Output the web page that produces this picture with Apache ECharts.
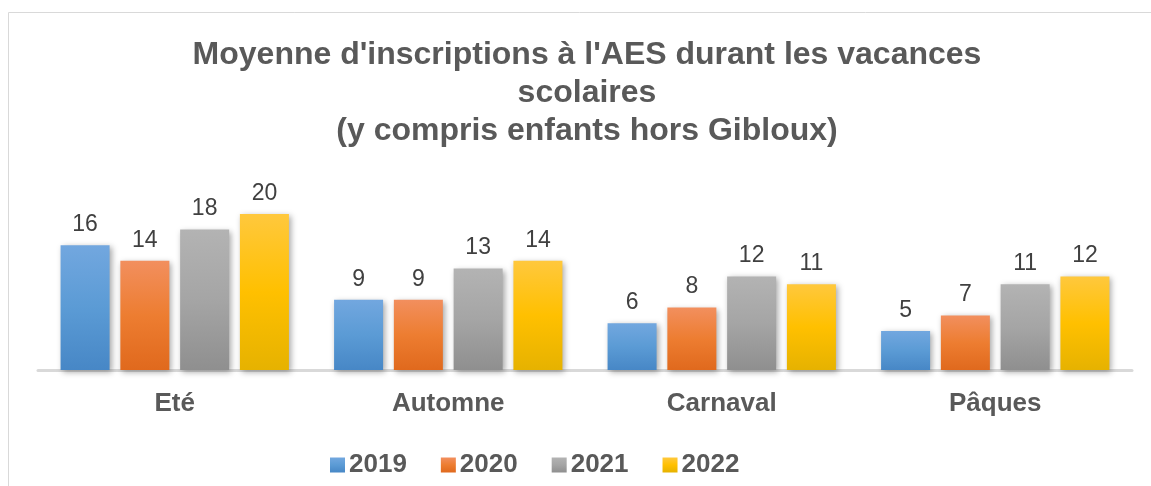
<!DOCTYPE html>
<html>
<head>
<meta charset="utf-8">
<script src="https://cdn.jsdelivr.net/npm/echarts@6/dist/echarts.min.js"></script>
<style>
  html, body { margin: 0; padding: 0; background: #fff; }
  #main { width: 1151px; height: 486px; }
</style>
</head>
<body>
<div id="main"></div>
<script>
// données
let periodes = ['Eté', 'Automne', 'Carnaval', 'Pâques'];
let annees = ['2019', '2020', '2021', '2022'];
let val2019 = [16, 9, 6, 5];
let val2020 = [14, 9, 8, 7];
let val2021 = [18, 13, 12, 11];
let val2022 = [20, 14, 11, 12];

let chart = echarts.init(document.getElementById('main'), null, { renderer: 'canvas' });

// dégradés façon Excel
function degrade(haut, milieu, bas) {
	return new echarts.graphic.LinearGradient(0, 0, 0, 1, [
		{ offset: 0, color: haut },
		{ offset: 0.5, color: milieu },
		{ offset: 1, color: bas }
	]);
}
let couleurs = [
	degrade('#72a7df', '#5b9bd5', '#4787c6'),
	degrade('#f28f5e', '#ed7d31', '#e0691d'),
	degrade('#b3b3b3', '#a5a5a5', '#8f8f8f'),
	degrade('#ffc83d', '#ffc000', '#e6b200')
];
let valeurs = [val2019, val2020, val2021, val2022];

let series = [];
annees.forEach(function(a, i) {
	series.push({
		name: a,
		type: 'bar',
		data: valeurs[i],
		barWidth: 49,
		barGap: '22%',
		itemStyle: {
			color: couleurs[i],
			shadowBlur: 6,
			shadowOffsetX: 2,
			shadowOffsetY: 2,
			shadowColor: 'rgba(0,0,0,0.35)'
		},
		label: {
			show: true,
			position: 'top',
			distance: 9,
			fontFamily: 'Liberation Sans',
			fontSize: 23,
			color: '#404040'
		}
	});
});

let option = {
	animation: false,
	textStyle: { fontFamily: 'Liberation Sans' },
	title: {
		text: "Moyenne d'inscriptions à l'AES durant les vacances\nscolaires\n(y compris enfants hors Gibloux)",
		left: 582,
		textAlign: 'center',
		top: 31,
		textStyle: {
			fontFamily: 'Liberation Sans',
			fontSize: 32,
			fontWeight: 'bold',
			color: '#595959',
			lineHeight: 38
		}
	},
	legend: {
		data: annees,
		left: 325,
		top: 447,
		itemWidth: 15,
		itemHeight: 15,
		itemGap: 34,
		icon: 'rect',
		textStyle: {
			fontFamily: 'Liberation Sans',
			fontSize: 26,
			fontWeight: 'bold',
			color: '#595959',
			padding: [0, 0, 0, -1]
		}
	},
	grid: {
		left: 38,
		right: 19,
		top: 175,
		bottom: 116
	},
	xAxis: {
		type: 'category',
		data: periodes,
		axisTick: { show: false },
		axisLine: { lineStyle: { color: '#d9d9d9', width: 3 } },
		axisLabel: {
			margin: 21,
			fontFamily: 'Liberation Sans',
			fontSize: 26,
			fontWeight: 'bold',
			color: '#595959'
		}
	},
	yAxis: {
		type: 'value',
		min: 0,
		max: 25,
		show: false,
		splitLine: { show: false }
	},
	graphic: [
		{
			type: 'polyline',
			shape: { points: [[8.5, 486], [8.5, 12.5], [1151, 12.5]] },
			style: { stroke: '#d9d9d9', lineWidth: 1, fill: null }
		}
	],
	series: series
};

chart.setOption(option);
</script>
</body>
</html>
